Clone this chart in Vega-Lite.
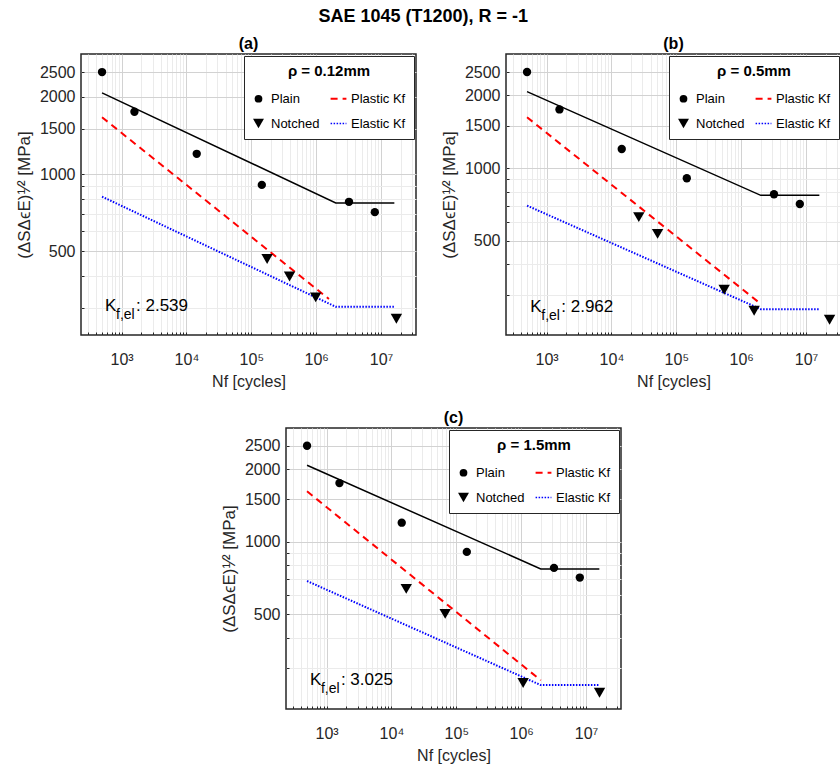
{
  "$schema": "https://vega.github.io/schema/vega-lite/v6.json",
  "background": "white",
  "padding": {"left": 14, "top": 8, "right": 0, "bottom": 0},
  "title": {"text": "SAE 1045 (T1200), R = -1", "fontSize": 18, "fontWeight": "bold", "font": "Liberation Sans", "color": "#000000", "anchor": "middle", "offset": 9, "dx": -5},
  "config": {
    "font": "Liberation Sans",
    "view": {"stroke": "#262626", "strokeWidth": 1.5},
    "title": {"font": "Liberation Sans", "fontSize": 16, "fontWeight": "bold", "color": "#000000", "offset": 2},
    "axis": {
      "labelFont": "Liberation Sans", "labelFontSize": 16, "labelColor": "#262626",
      "titleFont": "Liberation Sans", "titleFontSize": 16, "titleFontWeight": "normal", "titleColor": "#262626",
      "domain": false, "ticks": true, "tickSize": -3, "tickColor": "#262626", "tickWidth": 1,
      "labelOverlap": false, "labelFlush": false, "grid": true
    },
    "legend": {
      "orient": "top-right", "offset": 2, "columns": 2,
      "strokeColor": "#262626", "fillColor": "white", "padding": 8,
      "titleAnchor": "middle", "titleFont": "Liberation Sans", "titleFontSize": 15, "titleFontWeight": "bold", "titleColor": "#000000", "titlePadding": 13,
      "labelFont": "Liberation Sans", "labelFontSize": 13, "labelColor": "#000000", "labelOffset": 6,
      "rowPadding": 11, "columnPadding": 6
    }
  },
  "datasets": {
    "points": [
      {"panel": "all", "series": "Plain", "N": 500, "S": 2500},
      {"panel": "all", "series": "Plain", "N": 1580, "S": 1750},
      {"panel": "all", "series": "Plain", "N": 14400, "S": 1200},
      {"panel": "all", "series": "Plain", "N": 145000, "S": 908},
      {"panel": "all", "series": "Plain", "N": 3200000, "S": 780},
      {"panel": "all", "series": "Plain", "N": 8000000, "S": 711},
      {"panel": "a", "series": "Notched", "N": 175000, "S": 467},
      {"panel": "a", "series": "Notched", "N": 388000, "S": 399},
      {"panel": "a", "series": "Notched", "N": 982000, "S": 331},
      {"panel": "a", "series": "Notched", "N": 17200000, "S": 273},
      {"panel": "b", "series": "Notched", "N": 26400, "S": 627},
      {"panel": "b", "series": "Notched", "N": 51400, "S": 535},
      {"panel": "b", "series": "Notched", "N": 546000, "S": 314},
      {"panel": "b", "series": "Notched", "N": 1580000, "S": 257},
      {"panel": "b", "series": "Notched", "N": 23000000, "S": 236},
      {"panel": "c", "series": "Notched", "N": 16900, "S": 638},
      {"panel": "c", "series": "Notched", "N": 67300, "S": 503},
      {"panel": "c", "series": "Notched", "N": 1070000, "S": 260},
      {"panel": "c", "series": "Notched", "N": 16100000, "S": 237}
    ],
    "lines": [
      {"panel": "a", "series": "Fit", "N": 500, "S": 2075},
      {"panel": "a", "series": "Fit", "N": 2000000, "S": 772},
      {"panel": "a", "series": "Fit", "N": 16000000, "S": 772},
      {"panel": "a", "series": "Plastic Kf", "N": 500, "S": 1666},
      {"panel": "a", "series": "Plastic Kf", "N": 1570000, "S": 326},
      {"panel": "a", "series": "Elastic Kf", "N": 500, "S": 817},
      {"panel": "a", "series": "Elastic Kf", "N": 2000000, "S": 304},
      {"panel": "a", "series": "Elastic Kf", "N": 16000000, "S": 304},
      {"panel": "b", "series": "Fit", "N": 500, "S": 2075},
      {"panel": "b", "series": "Fit", "N": 2000000, "S": 772},
      {"panel": "b", "series": "Fit", "N": 16000000, "S": 772},
      {"panel": "b", "series": "Plastic Kf", "N": 500, "S": 1624},
      {"panel": "b", "series": "Plastic Kf", "N": 1790000, "S": 281},
      {"panel": "b", "series": "Elastic Kf", "N": 500, "S": 700},
      {"panel": "b", "series": "Elastic Kf", "N": 2000000, "S": 261},
      {"panel": "b", "series": "Elastic Kf", "N": 16000000, "S": 261},
      {"panel": "c", "series": "Fit", "N": 500, "S": 2075},
      {"panel": "c", "series": "Fit", "N": 2000000, "S": 772},
      {"panel": "c", "series": "Fit", "N": 16000000, "S": 772},
      {"panel": "c", "series": "Plastic Kf", "N": 500, "S": 1618},
      {"panel": "c", "series": "Plastic Kf", "N": 2000000, "S": 267},
      {"panel": "c", "series": "Elastic Kf", "N": 500, "S": 688},
      {"panel": "c", "series": "Elastic Kf", "N": 2000000, "S": 255},
      {"panel": "c", "series": "Elastic Kf", "N": 16000000, "S": 255}
    ],
    "notes": [
      {"panel": "a", "N": 556, "S": 305, "k": "K", "sub": "f,el", "val": ": 2.539"},
      {"panel": "b", "N": 561, "S": 267, "k": "K", "sub": "f,el", "val": ": 2.962"},
      {"panel": "c", "N": 554, "S": 267, "k": "K", "sub": "f,el", "val": ": 3.025"}
    ]
  },
  "resolve": {"scale": {"x": "independent", "y": "independent", "color": "independent", "shape": "independent", "strokeDash": "independent"}, "legend": {"color": "independent", "shape": "independent", "strokeDash": "independent"}},
  "spacing": 19,
  "vconcat": [
    {
      "spacing": 22,
      "resolve": {"scale": {"x": "independent", "y": "independent", "color": "independent", "shape": "independent", "strokeDash": "independent"}, "legend": {"color": "independent", "shape": "independent", "strokeDash": "independent"}},
      "hconcat": [
        {
          "width": 335, "height": 281,
          "title": {"text": "(a)"},
          "encoding": {
            "x": {"field": "N", "type": "quantitative", "scale": {"type": "log", "domain": [237, 34500000]}, "title": "Nf [cycles]",
              "axis": {"values": [300,400,500,600,700,800,900,1000,2000,3000,4000,5000,6000,7000,8000,9000,10000,20000,30000,40000,50000,60000,70000,80000,90000,100000,200000,300000,400000,500000,600000,700000,800000,900000,1000000,2000000,3000000,4000000,5000000,6000000,7000000,8000000,9000000,10000000,20000000,30000000],
                "labelExpr": "datum.value == 1000 ? '10³' : datum.value == 10000 ? '10⁴' : datum.value == 100000 ? '10⁵' : datum.value == 1000000 ? '10⁶' : datum.value == 10000000 ? '10⁷' : ''",
                "labelPadding": 19, "titlePadding": 6,
                "gridColor": {"condition": {"test": "indexof([1000,10000,100000,1000000,10000000], datum.value) >= 0", "value": "#d2d2d2"}, "value": "#ebebeb"}}},
            "y": {"field": "S", "type": "quantitative", "scale": {"type": "log", "domain": [236, 2940]}, "title": "(ΔSΔϵE)¹⁄² [MPa]",
              "axis": {"values": [300,400,500,600,700,800,900,1000,1500,2000,2500],
                "labelExpr": "indexof([500,1000,1500,2000,2500], datum.value) >= 0 ? format(datum.value, 'd') : ''",
                "labelPadding": 9, "titlePadding": 6, "titleFontSize": 17,
                "gridColor": {"condition": {"test": "indexof([500,1000,1500,2000,2500], datum.value) >= 0", "value": "#d2d2d2"}, "value": "#ebebeb"}}}
          },
          "layer": [
            {"data": {"name": "lines"}, "transform": [{"filter": "datum.panel == 'a' && datum.series == 'Fit'"}], "mark": {"type": "line", "color": "#000000", "strokeWidth": 1.5}},
            {"data": {"name": "lines"}, "transform": [{"filter": "datum.panel == 'a' && datum.series != 'Fit'"}], "mark": {"type": "line", "strokeWidth": 2},
              "encoding": {
                "color": {"field": "series", "type": "nominal", "scale": {"domain": ["Plain", "Notched", "Plastic Kf", "Elastic Kf"], "range": ["#000000", "#000000", "#ff0000", "#0000ff"]},
                  "legend": {"title": "ρ = 0.12mm", "encode": {"symbols": {"update": {
                    "fill": {"signal": "datum.value == 'Plain' || datum.value == 'Notched' ? '#000000' : 'transparent'"},
                    "stroke": {"signal": "datum.value == 'Plastic Kf' ? '#ff0000' : datum.value == 'Elastic Kf' ? '#0000ff' : '#000000'"},
                    "strokeDash": {"signal": "datum.value == 'Plastic Kf' ? [6,4] : datum.value == 'Elastic Kf' ? [1.5,1.5] : [1,0]"},
                    "strokeWidth": {"signal": "datum.value == 'Plastic Kf' ? 2 : datum.value == 'Elastic Kf' ? 1.5 : 0"},
                    "size": {"signal": "datum.value == 'Plain' ? 60 : datum.value == 'Notched' ? 120 : 250"}}}}}},
                "strokeDash": {"field": "series", "type": "nominal", "scale": {"domain": ["Plain", "Notched", "Plastic Kf", "Elastic Kf"], "range": [[1,0],[1,0],[7,5],[1.5,1.5]]}, "legend": {"title": "ρ = 0.12mm"}}
              }},
            {"data": {"name": "points"}, "transform": [{"filter": "(datum.panel == 'a' || datum.panel == 'all') && datum.series == 'Plain'"}], "mark": {"type": "point", "filled": true, "opacity": 1, "size": 70},
              "encoding": {
                "color": {"field": "series", "type": "nominal", "scale": {"domain": ["Plain", "Notched", "Plastic Kf", "Elastic Kf"], "range": ["#000000", "#000000", "#ff0000", "#0000ff"]}, "legend": {"title": "ρ = 0.12mm"}},
                "shape": {"field": "series", "type": "nominal", "scale": {"domain": ["Plain", "Notched", "Plastic Kf", "Elastic Kf"], "range": ["circle", "triangle-down", "stroke", "stroke"]}, "legend": {"title": "ρ = 0.12mm"}}
              }},
            {"data": {"name": "points"}, "transform": [{"filter": "datum.panel == 'a' && datum.series == 'Notched'"}], "mark": {"type": "point", "filled": true, "opacity": 1, "size": 130},
              "encoding": {
                "color": {"field": "series", "type": "nominal", "scale": {"domain": ["Plain", "Notched", "Plastic Kf", "Elastic Kf"], "range": ["#000000", "#000000", "#ff0000", "#0000ff"]}, "legend": {"title": "ρ = 0.12mm"}},
                "shape": {"field": "series", "type": "nominal", "scale": {"domain": ["Plain", "Notched", "Plastic Kf", "Elastic Kf"], "range": ["circle", "triangle-down", "stroke", "stroke"]}, "legend": {"title": "ρ = 0.12mm"}}
              }},
            {"data": {"name": "notes"}, "transform": [{"filter": "datum.panel == 'a'"}], "mark": {"type": "text", "align": "left", "baseline": "middle", "fontSize": 17, "color": "#000000"}, "encoding": {"text": {"field": "k"}}},
            {"data": {"name": "notes"}, "transform": [{"filter": "datum.panel == 'a'"}], "mark": {"type": "text", "align": "left", "baseline": "middle", "fontSize": 14, "dx": 11, "dy": 9, "color": "#000000"}, "encoding": {"text": {"field": "sub"}}},
            {"data": {"name": "notes"}, "transform": [{"filter": "datum.panel == 'a'"}], "mark": {"type": "text", "align": "left", "baseline": "middle", "fontSize": 17, "dx": 31, "color": "#000000"}, "encoding": {"text": {"field": "val"}}}
          ]
        },
        {
          "width": 335, "height": 281,
          "title": {"text": "(b)"},
          "encoding": {
            "x": {"field": "N", "type": "quantitative", "scale": {"type": "log", "domain": [237, 34500000]}, "title": "Nf [cycles]",
              "axis": {"values": [300,400,500,600,700,800,900,1000,2000,3000,4000,5000,6000,7000,8000,9000,10000,20000,30000,40000,50000,60000,70000,80000,90000,100000,200000,300000,400000,500000,600000,700000,800000,900000,1000000,2000000,3000000,4000000,5000000,6000000,7000000,8000000,9000000,10000000,20000000,30000000],
                "labelExpr": "datum.value == 1000 ? '10³' : datum.value == 10000 ? '10⁴' : datum.value == 100000 ? '10⁵' : datum.value == 1000000 ? '10⁶' : datum.value == 10000000 ? '10⁷' : ''",
                "labelPadding": 19, "titlePadding": 6,
                "gridColor": {"condition": {"test": "indexof([1000,10000,100000,1000000,10000000], datum.value) >= 0", "value": "#d2d2d2"}, "value": "#ebebeb"}}},
            "y": {"field": "S", "type": "quantitative", "scale": {"type": "log", "domain": [204, 2968]}, "title": "(ΔSΔϵE)¹⁄² [MPa]",
              "axis": {"values": [300,400,500,600,700,800,900,1000,1500,2000,2500],
                "labelExpr": "indexof([500,1000,1500,2000,2500], datum.value) >= 0 ? format(datum.value, 'd') : ''",
                "labelPadding": 9, "titlePadding": 6, "titleFontSize": 17,
                "gridColor": {"condition": {"test": "indexof([500,1000,1500,2000,2500], datum.value) >= 0", "value": "#d2d2d2"}, "value": "#ebebeb"}}}
          },
          "layer": [
            {"data": {"name": "lines"}, "transform": [{"filter": "datum.panel == 'b' && datum.series == 'Fit'"}], "mark": {"type": "line", "color": "#000000", "strokeWidth": 1.5}},
            {"data": {"name": "lines"}, "transform": [{"filter": "datum.panel == 'b' && datum.series != 'Fit'"}], "mark": {"type": "line", "strokeWidth": 2},
              "encoding": {
                "color": {"field": "series", "type": "nominal", "scale": {"domain": ["Plain", "Notched", "Plastic Kf", "Elastic Kf"], "range": ["#000000", "#000000", "#ff0000", "#0000ff"]},
                  "legend": {"title": "ρ = 0.5mm", "encode": {"symbols": {"update": {
                    "fill": {"signal": "datum.value == 'Plain' || datum.value == 'Notched' ? '#000000' : 'transparent'"},
                    "stroke": {"signal": "datum.value == 'Plastic Kf' ? '#ff0000' : datum.value == 'Elastic Kf' ? '#0000ff' : '#000000'"},
                    "strokeDash": {"signal": "datum.value == 'Plastic Kf' ? [6,4] : datum.value == 'Elastic Kf' ? [1.5,1.5] : [1,0]"},
                    "strokeWidth": {"signal": "datum.value == 'Plastic Kf' ? 2 : datum.value == 'Elastic Kf' ? 1.5 : 0"},
                    "size": {"signal": "datum.value == 'Plain' ? 60 : datum.value == 'Notched' ? 120 : 250"}}}}}},
                "strokeDash": {"field": "series", "type": "nominal", "scale": {"domain": ["Plain", "Notched", "Plastic Kf", "Elastic Kf"], "range": [[1,0],[1,0],[7,5],[1.5,1.5]]}, "legend": {"title": "ρ = 0.5mm"}}
              }},
            {"data": {"name": "points"}, "transform": [{"filter": "(datum.panel == 'b' || datum.panel == 'all') && datum.series == 'Plain'"}], "mark": {"type": "point", "filled": true, "opacity": 1, "size": 70},
              "encoding": {
                "color": {"field": "series", "type": "nominal", "scale": {"domain": ["Plain", "Notched", "Plastic Kf", "Elastic Kf"], "range": ["#000000", "#000000", "#ff0000", "#0000ff"]}, "legend": {"title": "ρ = 0.5mm"}},
                "shape": {"field": "series", "type": "nominal", "scale": {"domain": ["Plain", "Notched", "Plastic Kf", "Elastic Kf"], "range": ["circle", "triangle-down", "stroke", "stroke"]}, "legend": {"title": "ρ = 0.5mm"}}
              }},
            {"data": {"name": "points"}, "transform": [{"filter": "datum.panel == 'b' && datum.series == 'Notched'"}], "mark": {"type": "point", "filled": true, "opacity": 1, "size": 130},
              "encoding": {
                "color": {"field": "series", "type": "nominal", "scale": {"domain": ["Plain", "Notched", "Plastic Kf", "Elastic Kf"], "range": ["#000000", "#000000", "#ff0000", "#0000ff"]}, "legend": {"title": "ρ = 0.5mm"}},
                "shape": {"field": "series", "type": "nominal", "scale": {"domain": ["Plain", "Notched", "Plastic Kf", "Elastic Kf"], "range": ["circle", "triangle-down", "stroke", "stroke"]}, "legend": {"title": "ρ = 0.5mm"}}
              }},
            {"data": {"name": "notes"}, "transform": [{"filter": "datum.panel == 'b'"}], "mark": {"type": "text", "align": "left", "baseline": "middle", "fontSize": 17, "color": "#000000"}, "encoding": {"text": {"field": "k"}}},
            {"data": {"name": "notes"}, "transform": [{"filter": "datum.panel == 'b'"}], "mark": {"type": "text", "align": "left", "baseline": "middle", "fontSize": 14, "dx": 11, "dy": 9, "color": "#000000"}, "encoding": {"text": {"field": "sub"}}},
            {"data": {"name": "notes"}, "transform": [{"filter": "datum.panel == 'b'"}], "mark": {"type": "text", "align": "left", "baseline": "middle", "fontSize": 17, "dx": 31, "color": "#000000"}, "encoding": {"text": {"field": "val"}}}
          ]
        }
      ]
    },
    {
      "spacing": 0,
      "resolve": {"scale": {"x": "independent", "y": "independent", "color": "independent", "shape": "independent", "strokeDash": "independent"}, "legend": {"color": "independent", "shape": "independent", "strokeDash": "independent"}},
      "hconcat": [
        {"width": 138, "height": 10, "view": {"stroke": null}, "data": {"values": []}, "mark": "point"},
        {
          "width": 335, "height": 281,
          "title": {"text": "(c)"},
          "encoding": {
            "x": {"field": "N", "type": "quantitative", "scale": {"type": "log", "domain": [237, 34500000]}, "title": "Nf [cycles]",
              "axis": {"values": [300,400,500,600,700,800,900,1000,2000,3000,4000,5000,6000,7000,8000,9000,10000,20000,30000,40000,50000,60000,70000,80000,90000,100000,200000,300000,400000,500000,600000,700000,800000,900000,1000000,2000000,3000000,4000000,5000000,6000000,7000000,8000000,9000000,10000000,20000000,30000000],
                "labelExpr": "datum.value == 1000 ? '10³' : datum.value == 10000 ? '10⁴' : datum.value == 100000 ? '10⁵' : datum.value == 1000000 ? '10⁶' : datum.value == 10000000 ? '10⁷' : ''",
                "labelPadding": 19, "titlePadding": 6,
                "gridColor": {"condition": {"test": "indexof([1000,10000,100000,1000000,10000000], datum.value) >= 0", "value": "#d2d2d2"}, "value": "#ebebeb"}}},
            "y": {"field": "S", "type": "quantitative", "scale": {"type": "log", "domain": [203, 2960]}, "title": "(ΔSΔϵE)¹⁄² [MPa]",
              "axis": {"values": [300,400,500,600,700,800,900,1000,1500,2000,2500],
                "labelExpr": "indexof([500,1000,1500,2000,2500], datum.value) >= 0 ? format(datum.value, 'd') : ''",
                "labelPadding": 9, "titlePadding": 6, "titleFontSize": 17,
                "gridColor": {"condition": {"test": "indexof([500,1000,1500,2000,2500], datum.value) >= 0", "value": "#d2d2d2"}, "value": "#ebebeb"}}}
          },
          "layer": [
            {"data": {"name": "lines"}, "transform": [{"filter": "datum.panel == 'c' && datum.series == 'Fit'"}], "mark": {"type": "line", "color": "#000000", "strokeWidth": 1.5}},
            {"data": {"name": "lines"}, "transform": [{"filter": "datum.panel == 'c' && datum.series != 'Fit'"}], "mark": {"type": "line", "strokeWidth": 2},
              "encoding": {
                "color": {"field": "series", "type": "nominal", "scale": {"domain": ["Plain", "Notched", "Plastic Kf", "Elastic Kf"], "range": ["#000000", "#000000", "#ff0000", "#0000ff"]},
                  "legend": {"title": "ρ = 1.5mm", "encode": {"symbols": {"update": {
                    "fill": {"signal": "datum.value == 'Plain' || datum.value == 'Notched' ? '#000000' : 'transparent'"},
                    "stroke": {"signal": "datum.value == 'Plastic Kf' ? '#ff0000' : datum.value == 'Elastic Kf' ? '#0000ff' : '#000000'"},
                    "strokeDash": {"signal": "datum.value == 'Plastic Kf' ? [6,4] : datum.value == 'Elastic Kf' ? [1.5,1.5] : [1,0]"},
                    "strokeWidth": {"signal": "datum.value == 'Plastic Kf' ? 2 : datum.value == 'Elastic Kf' ? 1.5 : 0"},
                    "size": {"signal": "datum.value == 'Plain' ? 60 : datum.value == 'Notched' ? 120 : 250"}}}}}},
                "strokeDash": {"field": "series", "type": "nominal", "scale": {"domain": ["Plain", "Notched", "Plastic Kf", "Elastic Kf"], "range": [[1,0],[1,0],[7,5],[1.5,1.5]]}, "legend": {"title": "ρ = 1.5mm"}}
              }},
            {"data": {"name": "points"}, "transform": [{"filter": "(datum.panel == 'c' || datum.panel == 'all') && datum.series == 'Plain'"}], "mark": {"type": "point", "filled": true, "opacity": 1, "size": 70},
              "encoding": {
                "color": {"field": "series", "type": "nominal", "scale": {"domain": ["Plain", "Notched", "Plastic Kf", "Elastic Kf"], "range": ["#000000", "#000000", "#ff0000", "#0000ff"]}, "legend": {"title": "ρ = 1.5mm"}},
                "shape": {"field": "series", "type": "nominal", "scale": {"domain": ["Plain", "Notched", "Plastic Kf", "Elastic Kf"], "range": ["circle", "triangle-down", "stroke", "stroke"]}, "legend": {"title": "ρ = 1.5mm"}}
              }},
            {"data": {"name": "points"}, "transform": [{"filter": "datum.panel == 'c' && datum.series == 'Notched'"}], "mark": {"type": "point", "filled": true, "opacity": 1, "size": 130},
              "encoding": {
                "color": {"field": "series", "type": "nominal", "scale": {"domain": ["Plain", "Notched", "Plastic Kf", "Elastic Kf"], "range": ["#000000", "#000000", "#ff0000", "#0000ff"]}, "legend": {"title": "ρ = 1.5mm"}},
                "shape": {"field": "series", "type": "nominal", "scale": {"domain": ["Plain", "Notched", "Plastic Kf", "Elastic Kf"], "range": ["circle", "triangle-down", "stroke", "stroke"]}, "legend": {"title": "ρ = 1.5mm"}}
              }},
            {"data": {"name": "notes"}, "transform": [{"filter": "datum.panel == 'c'"}], "mark": {"type": "text", "align": "left", "baseline": "middle", "fontSize": 17, "color": "#000000"}, "encoding": {"text": {"field": "k"}}},
            {"data": {"name": "notes"}, "transform": [{"filter": "datum.panel == 'c'"}], "mark": {"type": "text", "align": "left", "baseline": "middle", "fontSize": 14, "dx": 11, "dy": 9, "color": "#000000"}, "encoding": {"text": {"field": "sub"}}},
            {"data": {"name": "notes"}, "transform": [{"filter": "datum.panel == 'c'"}], "mark": {"type": "text", "align": "left", "baseline": "middle", "fontSize": 17, "dx": 31, "color": "#000000"}, "encoding": {"text": {"field": "val"}}}
          ]
        }
      ]
    }
  ]
}
